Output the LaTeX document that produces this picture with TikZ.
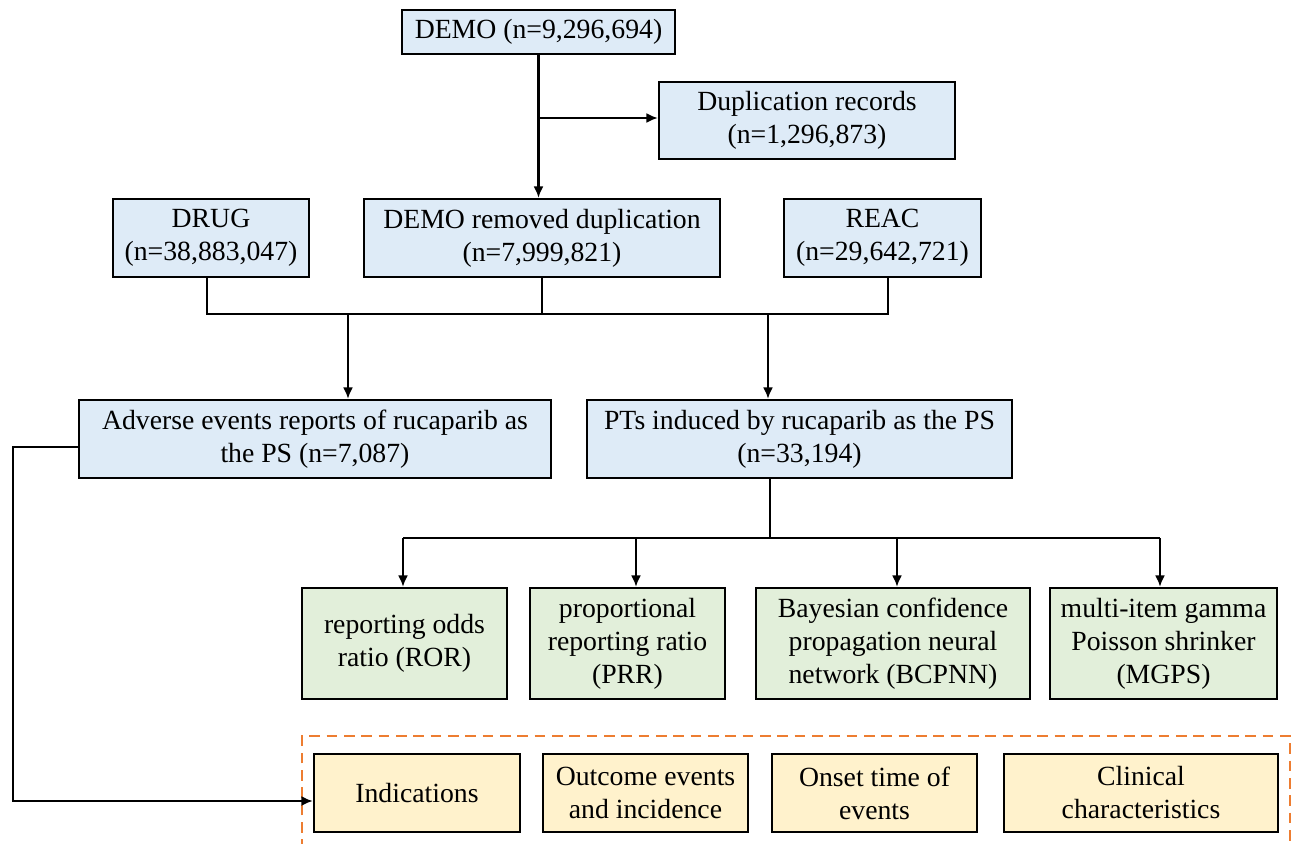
\documentclass[tikz,border=0pt]{standalone}
\usepackage{fontspec}
\setmainfont{Liberation Serif}
\usetikzlibrary{arrows.meta}
\definecolor{bluefill}{HTML}{DEEBF7}
\definecolor{greenfill}{HTML}{E2EFDA}
\definecolor{yellowfill}{HTML}{FFF2CC}
\definecolor{dashorange}{HTML}{ED7D31}
\begin{document}
\begin{tikzpicture}[x=0.75pt,y=-0.75pt,
  basebox/.style={draw=black,line width=1.8pt,inner sep=0pt,align=center,
    font=\fontsize{20.8}{24.75}\selectfont},
  bluebox/.style={basebox,fill=bluefill},
  greenbox/.style={basebox,fill=greenfill,minimum height=83.25pt},
  yellowbox/.style={basebox,fill=yellowfill,minimum height=58.5pt},
  conn/.style={line width=1.6pt},
  arr/.style={line width=1.6pt,-{Latex[length=8.5pt,width=7.5pt]}},
  orangedash/.style={draw=dashorange,line width=1.6pt,dash pattern=on 8pt off 5pt}]
\useasboundingbox (0,0) rectangle (1292,843);

% top level
\node[bluebox,minimum width=204.75pt,minimum height=33pt] (demo) at (538.5,32) {DEMO (n=9,296,694)};
\node[bluebox,minimum width=222pt,minimum height=57.75pt] (dup) at (807,120.5) {Duplication records\\(n=1,296,873)};
\node[bluebox,minimum width=147pt,minimum height=58.5pt] (drug) at (211,238) {DRUG\\(n=38,883,047)};
\node[bluebox,minimum width=267pt,minimum height=58.5pt] (demor) at (542,238) {DEMO removed duplication\\(n=7,999,821)};
\node[bluebox,minimum width=147.75pt,minimum height=58.5pt] (reac) at (882.5,238) {REAC\\(n=29,642,721)};
\node[bluebox,minimum width=354pt,minimum height=58.5pt] (adv) at (315,439) {Adverse events reports of rucaparib as\\the PS (n=7,087)};
\node[bluebox,minimum width=318.75pt,minimum height=58.5pt] (pts) at (799.5,439) {PTs induced by rucaparib as the PS\\(n=33,194)};

% methods
\node[greenbox,minimum width=153.75pt] (g1) at (404.5,643.5) {reporting odds\\ratio (ROR)};
\node[greenbox,minimum width=146.25pt] (g2) at (627.5,643.5) {proportional\\reporting ratio\\(PRR)};
\node[greenbox,minimum width=205.5pt] (g3) at (893,643.5) {Bayesian confidence\\propagation neural\\network (BCPNN)};
\node[greenbox,minimum width=170.25pt] (g4) at (1163.5,643.5) {multi-item gamma\\Poisson shrinker\\(MGPS)};

% analyses
\node[yellowbox,minimum width=154.5pt] (y1) at (417,793) {Indications};
\node[yellowbox,minimum width=153.75pt] (y2) at (645.5,793) {Outcome events\\and incidence};
\node[yellowbox,minimum width=153.75pt] (y3) at (874.5,793) {Onset time of\\events};
\node[yellowbox,minimum width=205.5pt] (y4) at (1141,793) {Clinical\\characteristics};

% dashed group frame (open at the bottom edge)
\draw[orangedash] (302,850) -- (302,736) -- (1290,736) -- (1290,850);

% connectors top
\coordinate (j1) at (538.5,118);
\draw[arr] (demo.south) -- (demo.south |- demor.north);
\draw[arr] (j1) -- (dup.west |- j1);

\coordinate (hl) at (0,314);
\coordinate (d1) at (207,277);
\coordinate (d3) at (888,277);
\draw[conn] (d1) -- (d1 |- hl) -- (d3 |- hl) -- (d3);
\draw[conn] (demor.south) -- (demor.south |- hl);
\coordinate (a1) at (348,314);
\coordinate (a2) at (768,314);
\draw[arr] (a1) -- (a1 |- adv.north);
\draw[arr] (a2) -- (a2 |- pts.north);

% PTs to methods
\coordinate (p1) at (770,478);
\coordinate (b1) at (403,538);
\coordinate (b2) at (636,538);
\coordinate (b3) at (897,538);
\coordinate (b4) at (1160,538);
\draw[conn] (p1 |- pts.south) -- (p1 |- b1);
\draw[conn] (b1) -- (b4);
\draw[arr] (b1) -- (b1 |- g1.north);
\draw[arr] (b2) -- (b2 |- g2.north);
\draw[arr] (b3) -- (b3 |- g3.north);
\draw[arr] (b4) -- (b4 |- g4.north);

% adverse events to analyses
\coordinate (c1) at (13,447);
\coordinate (c2) at (13,801);
\draw[arr] (adv.west |- c1) -- (c1) -- (c2) -- (y1.west |- c2);
\end{tikzpicture}
\end{document}
